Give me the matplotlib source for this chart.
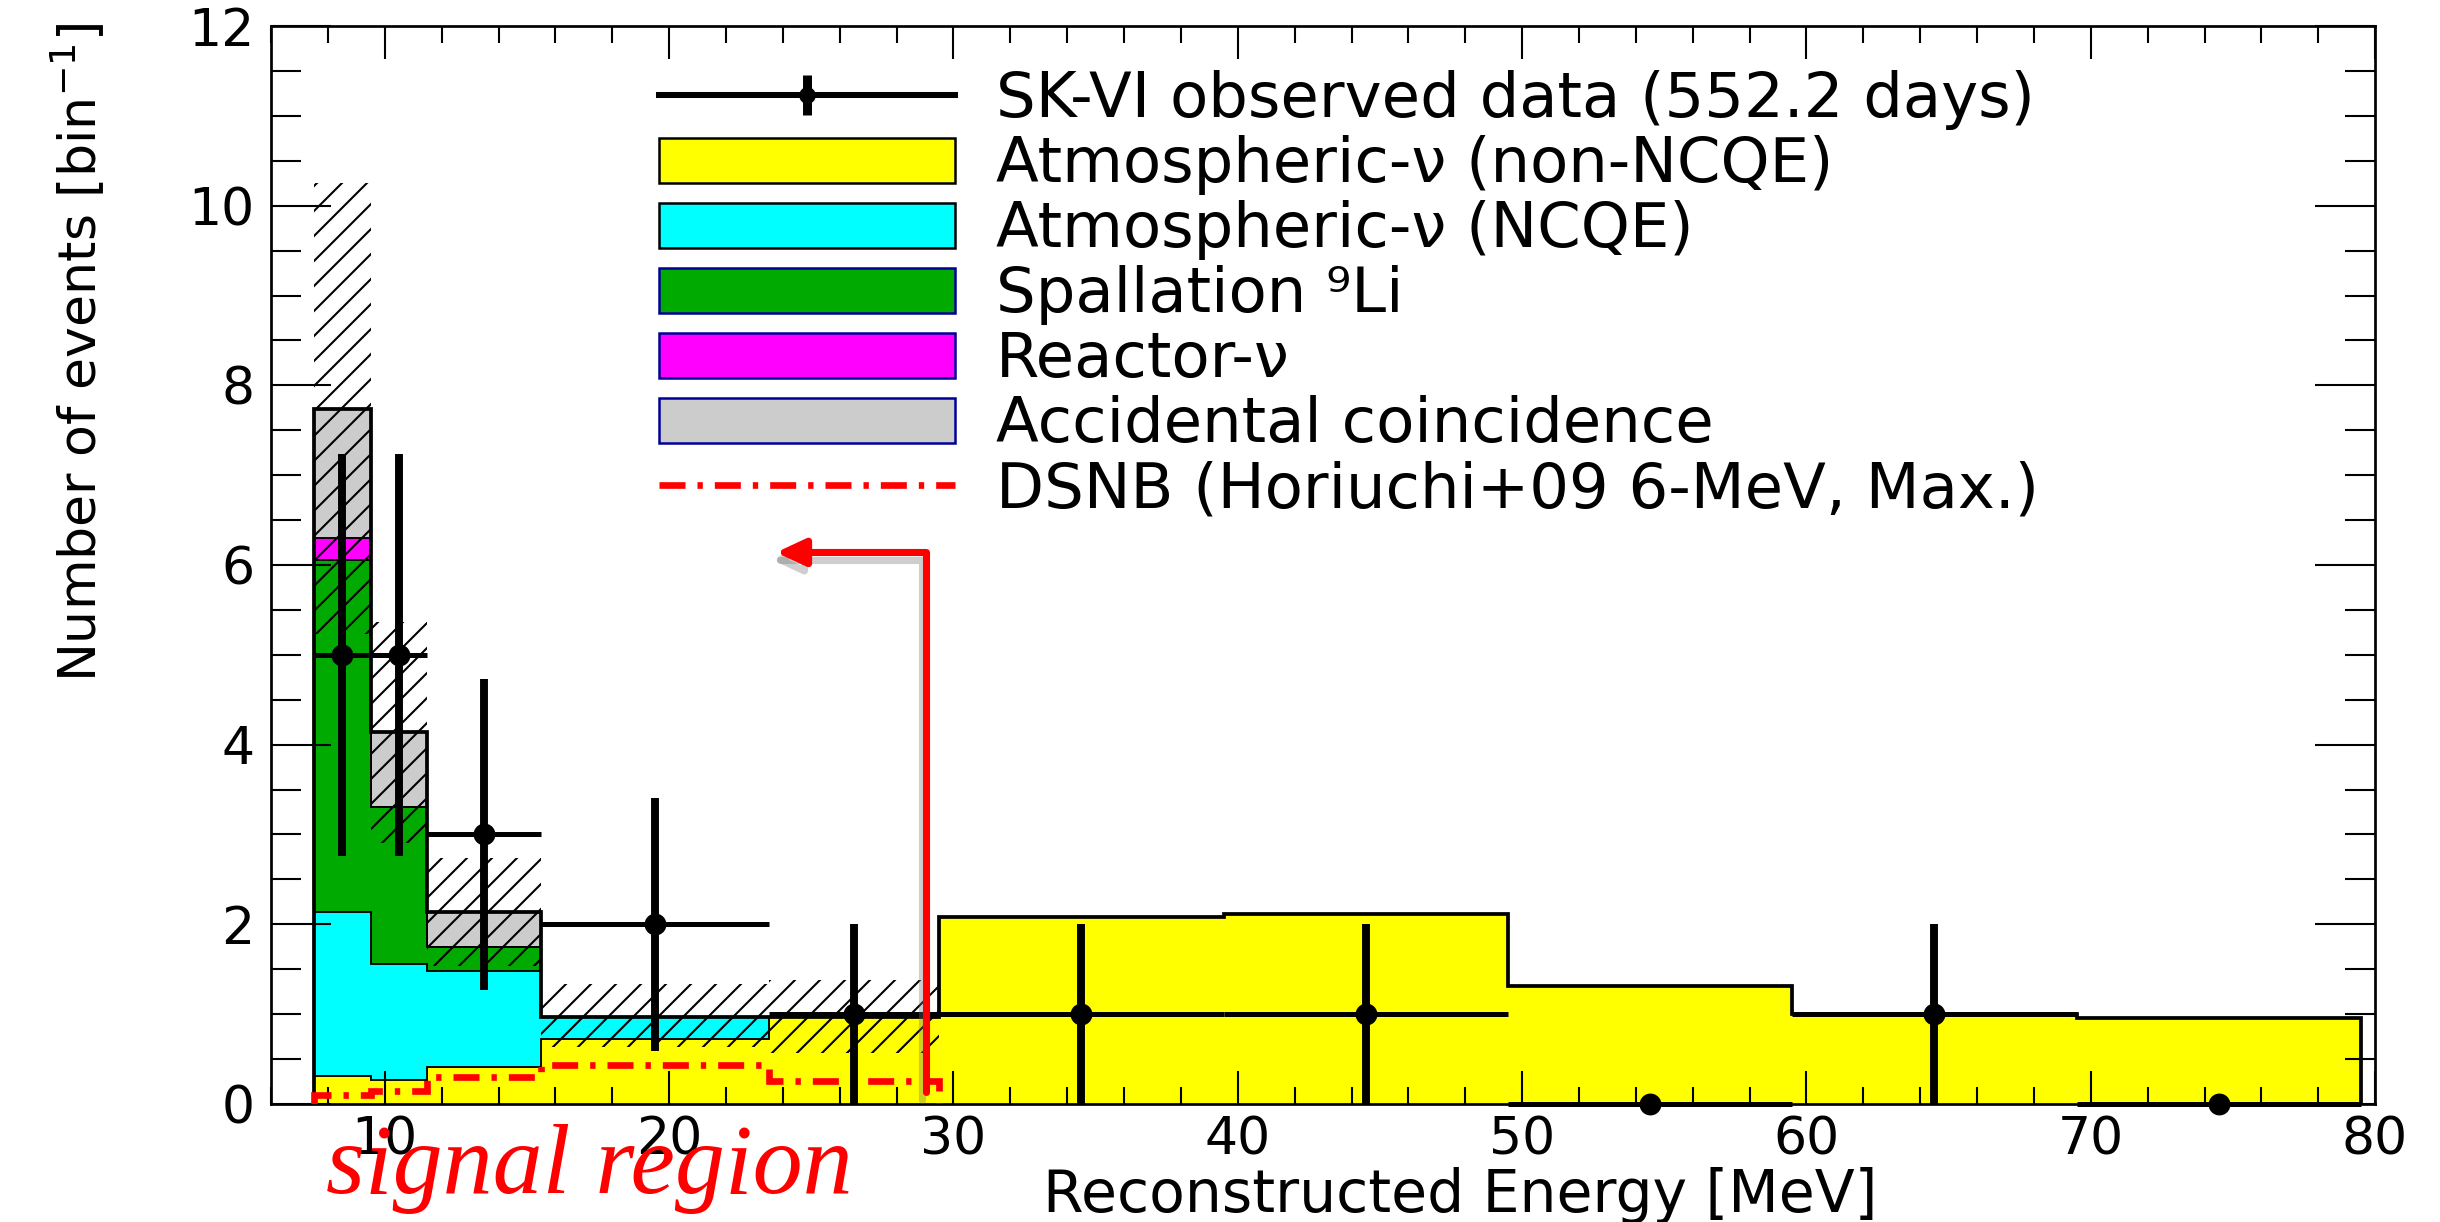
import numpy as np
import matplotlib
matplotlib.use("Agg")
import matplotlib.pyplot as plt
import matplotlib.patheffects as pe
from matplotlib.lines import Line2D
from matplotlib.patches import Patch
from matplotlib.ticker import MultipleLocator

# bin edges in reconstructed energy (MeV)
edges = [7.5, 9.5, 11.5, 15.5, 23.5, 29.5, 39.5, 49.5, 59.5, 69.5, 79.5]

# stacked background components (events / bin)
atm_non_ncqe = [0.31, 0.27, 0.41, 0.72, 0.97, 2.08, 2.11, 1.31, 1.00, 0.96]
atm_ncqe = [1.83, 1.29, 1.07, 0.25, 0, 0, 0, 0, 0, 0]
li9 = [3.92, 1.75, 0.27, 0, 0, 0, 0, 0, 0, 0]
reactor = [0.24, 0, 0, 0, 0, 0, 0, 0, 0, 0]
accidental = [1.44, 0.83, 0.39, 0, 0, 0, 0, 0, 0, 0]

# background uncertainty band (first five bins)
bkg_low = [5.23, 2.91, 1.54, 0.63, 0.57]
bkg_high = [10.25, 5.36, 2.74, 1.33, 1.38]

# DSNB expectation (first five bins)
dsnb = [0.10, 0.14, 0.30, 0.43, 0.25]

# observed data
obs = [5, 5, 3, 2, 1, 1, 1, 0, 1, 0]
obs_err = [2.24, 2.24, 1.73, 1.41, 1.0, 1.0, 1.0, 0, 1.0, 0]

labels = ["SK-VI observed data (552.2 days)",
          "Atmospheric-ν (non-NCQE)",
          "Atmospheric-ν (NCQE)",
          "Spallation ⁹Li",
          "Reactor-ν",
          "Accidental coincidence",
          "DSNB (Horiuchi+09 6-MeV, Max.)"]

colors = ["#ffff00", "#00ffff", "#00aa00", "#ff00ff", "#cccccc"]
dsnb_style = (0, (3.9, 1.8, 0.8, 1.8))

plt.rcParams["font.family"] = ["DejaVu Sans"]
plt.rcParams["hatch.linewidth"] = 1.0

fig = plt.figure(figsize=(2440 / 150, 1222 / 150), dpi=150)
ax = fig.add_axes([0.1111, 0.0966, 0.9734 - 0.1111, 0.9787 - 0.0966])

# stacked histogram
bottom = np.zeros(len(edges) - 1)
for vals, c in zip([atm_non_ncqe, atm_ncqe, li9, reactor, accidental], colors):
    top = bottom + np.array(vals)
    ax.stairs(top, edges, baseline=bottom, fill=True, color=c, zorder=1)
    ax.stairs(top, edges, baseline=None, color="k", lw=0.9, zorder=2)
    bottom = top
ax.stairs(bottom, edges, baseline=0, color="k", lw=1.8, zorder=2)

# uncertainty hatch
ax.stairs(bkg_high, edges[:6], baseline=bkg_low, fill=True, facecolor="none",
          edgecolor="k", lw=0, hatch="//", zorder=3)

# DSNB
ax.stairs(dsnb, edges[:6], baseline=0, color="red", lw=3.2,
          linestyle=dsnb_style, zorder=4)

# data points
e = np.array(edges)
centers = (e[:-1] + e[1:]) / 2
half_w = np.diff(e) / 2
ax.errorbar(centers, obs, xerr=half_w, fmt="o", color="k", ms=9.5,
            elinewidth=2.4, capsize=0, zorder=6, clip_on=False)
ax.errorbar(centers, obs, yerr=obs_err, fmt="none", ecolor="k",
            elinewidth=3.8, capsize=0, zorder=6, clip_on=False)

# signal region arrow
ax.annotate("", xy=(23.76, 6.14), xytext=(29.04, 0.13),
            arrowprops=dict(arrowstyle="-|>,head_length=0.58,head_width=0.27",
                            connectionstyle="angle,angleA=90,angleB=0,rad=0",
                            color="red", lw=3.4, shrinkA=0, shrinkB=0,
                            mutation_scale=20,
                            path_effects=[pe.SimpleLineShadow(offset=(-2, -3.5), shadow_color="0.45", alpha=0.35),
                                          pe.Normal()]),
            zorder=7)

ax.set_xlim(6, 80)
ax.set_ylim(0, 12)
ax.xaxis.set_major_locator(MultipleLocator(10))
ax.xaxis.set_minor_locator(MultipleLocator(2))
ax.yaxis.set_major_locator(MultipleLocator(2))
ax.yaxis.set_minor_locator(MultipleLocator(0.5))
ax.tick_params(which="both", direction="in", top=True, right=True, width=1.0, labelsize=25)
ax.tick_params(axis="x", which="major", length=16, pad=5.5)
ax.tick_params(axis="x", which="minor", length=8)
ax.tick_params(axis="y", which="major", length=29, pad=8)
ax.tick_params(axis="y", which="minor", length=14.5)
for s in ax.spines.values():
    s.set_linewidth(1.3)

ax.set_xlabel("Reconstructed Energy [MeV]", fontsize=28, va="baseline")
ax.xaxis.set_label_coords(0.565, -0.1002)
ax.set_ylabel("Number of events [bin$^{-1}$]", fontsize=25, ha="right",
              va="center", rotation_mode="anchor")
ax.yaxis.set_label_coords(-0.0915, 1.0028)

# legend
obs_handle = (Line2D([], [], color="k", lw=2.9),
              Line2D([], [], color="k", marker="|", ms=19, mew=4.3, ls="none"),
              Line2D([], [], color="k", marker="o", ms=7, ls="none"))
edge_cols = ["k", "k", "#000099", "#000099", "#000099"]
patch_handles = [Patch(facecolor=c, edgecolor=ec, lw=1.2) for c, ec in zip(colors, edge_cols)]
dsnb_handle = Line2D([], [], color="red", lw=3.2, linestyle=dsnb_style)
ax.legend([obs_handle] + patch_handles + [dsnb_handle], labels,
          loc="upper left", bbox_to_anchor=(0.1844, 0.9588), borderaxespad=0,
          borderpad=0, frameon=False, fontsize=30, handlelength=4.74,
          handleheight=0.72, handletextpad=0.65, labelspacing=0.08)

fig.text(326 / 2440, 29 / 1222, "signal region", color="red", fontsize=48,
         family="Liberation Serif", style="italic", ha="left", va="baseline")

fig.savefig("out.png", dpi=150)
